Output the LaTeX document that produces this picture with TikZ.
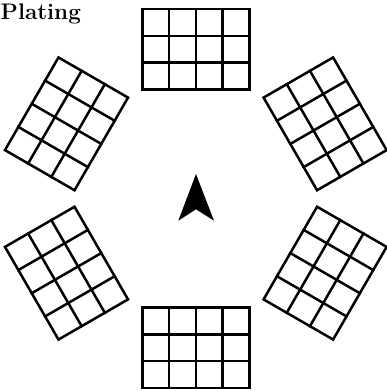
\documentclass[tikz,border=0pt]{standalone}
\usetikzlibrary{calc}
\begin{document}
\begin{tikzpicture}[x=1pt,y=1pt,
  gridline/.style={line width=2.5pt, line cap=rect, line join=miter}]
\useasboundingbox (0,-391) rectangle (386,0);
\coordinate (C) at (195.8,-198.5);
\node[anchor=base west, inner sep=0pt, font=\bfseries\fontsize{22.5}{26}\selectfont] (title) at (0.5,-19.5) {Plating};
\foreach \k in {0,1,2,3,4,5}{
  \begin{scope}[shift={(C)}, rotate=\k*60, shift={(-53.5,109.15)}]
    \draw[gridline] (0,0) rectangle (107,80.3);
    \foreach \i in {1,2,3} \draw[gridline] (\i*26.75,0) -- (\i*26.75,80.3);
    \foreach \j in {1,2} \draw[gridline] (0,\j*26.77) -- (107,\j*26.77);
  \end{scope}
}
\fill[black] ($(C)+(0.2,24.5)$) -- ($(C)+(18.2,-22.2)$) -- ($(C)+(0.2,-10.8)$) -- ($(C)+(-17.5,-22.2)$) -- cycle;
\end{tikzpicture}
\end{document}
